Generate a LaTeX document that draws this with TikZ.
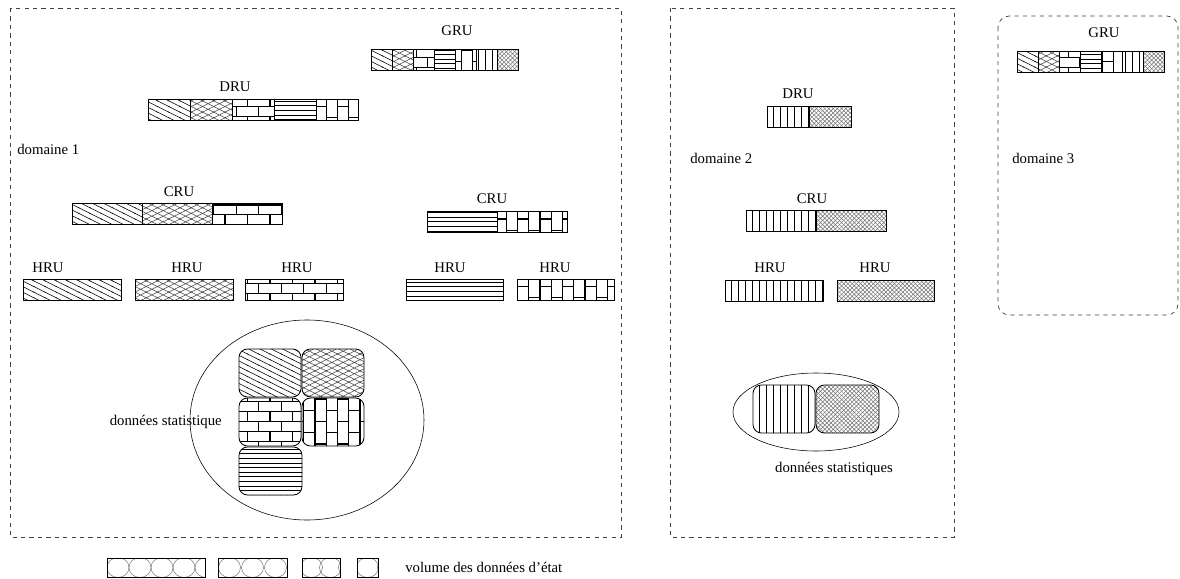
\documentclass[tikz,border=0pt]{standalone}
\usepackage{fontspec}
\setmainfont{Liberation Serif}
\usetikzlibrary{patterns}

\pgfdeclarepatternformonly{shallow}{\pgfqpoint{-1pt}{-1pt}}{\pgfqpoint{9pt}{5pt}}{\pgfqpoint{8pt}{4pt}}{%
  \pgfsetlinewidth{0.4pt}
  \pgfpathmoveto{\pgfqpoint{-0.5pt}{4.25pt}}\pgfpathlineto{\pgfqpoint{8.5pt}{-0.25pt}}
  \pgfusepath{stroke}}
\pgfdeclarepatterninherentlycolored{coarsecross}{\pgfqpoint{-1pt}{-1pt}}{\pgfqpoint{9pt}{5pt}}{\pgfqpoint{8pt}{4pt}}{%
  \pgfsetlinewidth{0.4pt}\pgfsetstrokecolor{black!70}
  \pgfpathmoveto{\pgfqpoint{-0.5pt}{4.25pt}}\pgfpathlineto{\pgfqpoint{8.5pt}{-0.25pt}}
  \pgfpathmoveto{\pgfqpoint{-0.5pt}{-0.25pt}}\pgfpathlineto{\pgfqpoint{8.5pt}{4.25pt}}
  \pgfusepath{stroke}}
\pgfdeclarepatterninherentlycolored{finecross}{\pgfqpoint{-1pt}{-1pt}}{\pgfqpoint{4pt}{4pt}}{\pgfqpoint{3pt}{3pt}}{%
  \pgfsetlinewidth{0.35pt}\pgfsetstrokecolor{black!55}
  \pgfpathmoveto{\pgfqpoint{3.1pt}{-0.1pt}}\pgfpathlineto{\pgfqpoint{-0.1pt}{3.1pt}}
  \pgfpathmoveto{\pgfqpoint{-0.1pt}{-0.1pt}}\pgfpathlineto{\pgfqpoint{3.1pt}{3.1pt}}
  \pgfusepath{stroke}}
\pgfdeclarepatternformonly{hbricks}{\pgfqpoint{-1pt}{-1pt}}{\pgfqpoint{17pt}{17pt}}{\pgfqpoint{16pt}{14pt}}{%
  \pgfsetlinewidth{0.8pt}
  \pgfpathmoveto{\pgfqpoint{0pt}{0pt}}\pgfpathlineto{\pgfqpoint{16pt}{0pt}}
  \pgfpathmoveto{\pgfqpoint{0pt}{7pt}}\pgfpathlineto{\pgfqpoint{16pt}{7pt}}
  \pgfpathmoveto{\pgfqpoint{0pt}{0pt}}\pgfpathlineto{\pgfqpoint{0pt}{7pt}}
  \pgfpathmoveto{\pgfqpoint{8pt}{7pt}}\pgfpathlineto{\pgfqpoint{8pt}{14pt}}
  \pgfusepath{stroke}}
\pgfdeclarepatternformonly{vbricks}{\pgfqpoint{-1pt}{-1pt}}{\pgfqpoint{17pt}{17pt}}{\pgfqpoint{16pt}{16pt}}{%
  \pgfsetlinewidth{0.8pt}
  \pgfpathmoveto{\pgfqpoint{0pt}{0pt}}\pgfpathlineto{\pgfqpoint{0pt}{16pt}}
  \pgfpathmoveto{\pgfqpoint{8pt}{0pt}}\pgfpathlineto{\pgfqpoint{8pt}{16pt}}
  \pgfpathmoveto{\pgfqpoint{0pt}{0pt}}\pgfpathlineto{\pgfqpoint{8pt}{0pt}}
  \pgfpathmoveto{\pgfqpoint{8pt}{8pt}}\pgfpathlineto{\pgfqpoint{16pt}{8pt}}
  \pgfusepath{stroke}}
\pgfdeclarepatternformonly{vlines}{\pgfqpoint{-1pt}{-1pt}}{\pgfqpoint{6pt}{5pt}}{\pgfqpoint{5pt}{4pt}}{%
  \pgfsetlinewidth{0.5pt}
  \pgfpathmoveto{\pgfqpoint{0pt}{-0.5pt}}\pgfpathlineto{\pgfqpoint{0pt}{4.5pt}}
  \pgfusepath{stroke}}
\pgfdeclarepatternformonly{hlines}{\pgfqpoint{-1pt}{-1pt}}{\pgfqpoint{5pt}{4pt}}{\pgfqpoint{4pt}{3.3pt}}{%
  \pgfsetlinewidth{0.6pt}
  \pgfpathmoveto{\pgfqpoint{-0.5pt}{0pt}}\pgfpathlineto{\pgfqpoint{4.5pt}{0pt}}
  \pgfusepath{stroke}}

\newcommand{\patbar}[4]{%
  \foreach \pat [count=\k from 0] in {#4}
    \draw[seg, pattern=\pat] ({#1+\k*#3},#2) rectangle +(#3,21);
}

\begin{document}
\begin{tikzpicture}[x=0.025cm, y=-0.025cm,
  font=\fontsize{10.5}{12}\selectfont,
  lbl/.style={inner sep=0pt},
  seg/.style={draw, line width=0.6pt},
  cell/.style={draw, line width=0.6pt, rounded corners=6pt},
  zone/.style={draw=black!75, dashed, line width=0.5pt}
]
  \useasboundingbox (0,0) rectangle (1180,579);

  \draw[zone] (10,8) rectangle (621,537);
  \draw[zone] (670,8) rectangle (954,537);
  \draw[zone, rounded corners=8pt] (998,16) rectangle (1178,315);

  \node[lbl] (gru1) at (457,31) {GRU};
  \patbar{371}{49}{21}{shallow, coarsecross, hbricks, hlines, vbricks, vlines, finecross}
  \node[lbl] (dru1) at (235,87) {DRU};
  \patbar{148}{99}{42}{shallow, coarsecross, hbricks, hlines, vbricks}
  \node[lbl, anchor=west] (dom1) at (17,149) {domaine 1};
  \node[lbl] (cru1) at (179,192) {CRU};
  \patbar{72}{203}{70}{shallow, coarsecross, hbricks}
  \node[lbl] (cru2) at (492,199) {CRU};
  \patbar{427}{211}{70}{hlines, vbricks}

  \node[lbl] (hru1) at (48,268) {HRU};
  \node[lbl] (hru2) at (187,268) {HRU};
  \node[lbl] (hru3) at (297,268) {HRU};
  \node[lbl] (hru4) at (450,268) {HRU};
  \node[lbl] (hru5) at (555,268) {HRU};
  \patbar{23}{279}{98}{shallow}
  \patbar{135}{279}{98}{coarsecross}
  \patbar{245}{279}{98}{hbricks}
  \patbar{406}{279}{97}{hlines}
  \patbar{517}{279}{97}{vbricks}

  \draw (307,420) ellipse [x radius=117, y radius=100];
  \draw[cell, pattern=shallow] (239,349) rectangle (301,397);
  \draw[cell, pattern=coarsecross] (302,349) rectangle (364,397);
  \draw[cell, pattern=hbricks] (239,398) rectangle (301,446);
  \draw[cell, pattern=vbricks] (302,398) rectangle (364,446);
  \draw[cell, pattern=hlines] (239,447) rectangle (302,495);
  \node[lbl, anchor=east] (stat1) at (222,422) {données statistique};

  \node[lbl] (dru2) at (798,94) {DRU};
  \patbar{767}{106}{42}{vlines, finecross}
  \node[lbl, anchor=west] (dom2) at (690,158) {domaine 2};
  \node[lbl] (cru3) at (812,199) {CRU};
  \patbar{746}{210}{70}{vlines, finecross}
  \node[lbl] (hru6) at (770,268) {HRU};
  \node[lbl] (hru7) at (875,268) {HRU};
  \patbar{725}{280}{98}{vlines}
  \patbar{837}{280}{97}{finecross}

  \draw (816,412) ellipse [x radius=83, y radius=39];
  \draw[cell, pattern=vlines] (753,385) rectangle (815,433);
  \draw[cell, pattern=finecross] (816,385) rectangle (879,433);
  \node[lbl] (stat2) at (834,469) {données statistiques};

  \node[lbl] (gru2) at (1104,33) {GRU};
  \patbar{1017}{51}{21}{shallow, coarsecross, hbricks, hlines, vbricks, vlines, finecross}
  \node[lbl, anchor=west] (dom3) at (1012,158) {domaine 3};

  \foreach \xs/\w/\d in {107/98/22, 218/69/23, 302/38/19, 357/21/21} {
    \begin{scope}
      \clip (\xs,558) rectangle +(\w,19);
      \foreach \c in {0,...,4}
        \draw[black!50] (\xs+\d*\c+\d/2,567.5) ellipse [x radius=11, y radius=10];
    \end{scope}
    \draw[line width=0.6pt] (\xs,558) rectangle +(\w,19);
  }
  \node[lbl, anchor=west] (vol) at (405,567) {volume des données d'état};
\end{tikzpicture}
\end{document}
